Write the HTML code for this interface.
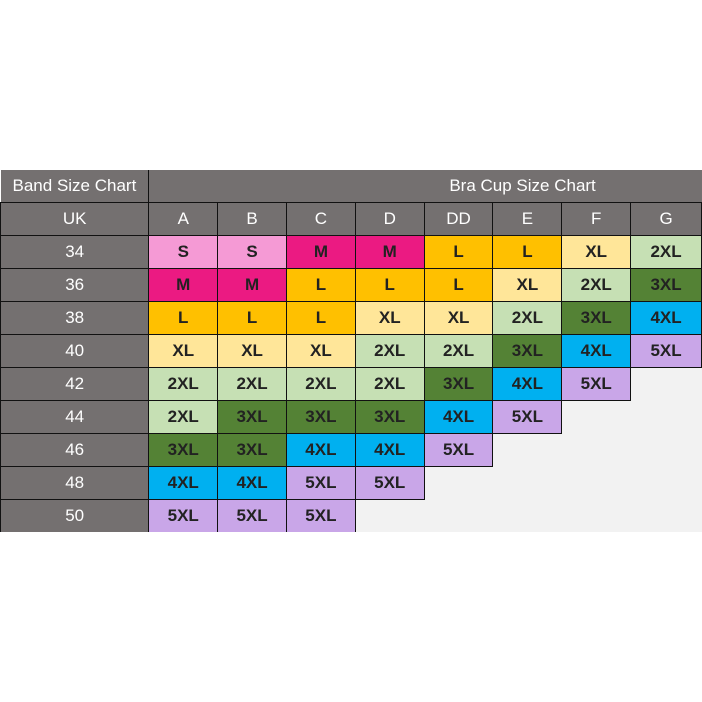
<!DOCTYPE html>
<html><head><meta charset="utf-8"><style>
html,body{margin:0;padding:0;background:#fff;width:702px;height:702px;overflow:hidden}
table{position:absolute;left:0;top:170px;border-collapse:collapse;table-layout:fixed;font-family:"Liberation Sans",sans-serif;font-size:17px}
td{height:32px;padding:0;text-align:center;border:1.5px solid #111;color:#222;font-weight:bold}
td.g{background:#747070;color:#fff;font-weight:normal}
td.e{background:#f2f2f2;border:none}
.S{background:#f59ad5}.M{background:#eb1a82}.L{background:#ffc000}.XL{background:#ffe699}
.X2{background:#c6e0b4}.X3{background:#548235}.X4{background:#00b0f0}.X5{background:#c9a6e8}
</style></head><body>
<table>
<colgroup><col style="width:149px"><col style="width:69px"><col style="width:69px"><col style="width:69px"><col style="width:69px"><col style="width:69px"><col style="width:69px"><col style="width:69px"><col style="width:71px"></colgroup>
<tr><td class="g" style="height:31px;border-top:none;border-left:none">Band Size Chart</td><td class="g" colspan="8" style="text-align:left;padding-left:300px;border-top:none;border-right:none">Bra Cup Size Chart</td></tr>
<tr><td class="g">UK</td><td class="g">A</td><td class="g">B</td><td class="g">C</td><td class="g">D</td><td class="g">DD</td><td class="g">E</td><td class="g">F</td><td class="g">G</td></tr>
<tr><td class="g">34</td><td class="S">S</td><td class="S">S</td><td class="M">M</td><td class="M">M</td><td class="L">L</td><td class="L">L</td><td class="XL">XL</td><td class="X2">2XL</td></tr>
<tr><td class="g">36</td><td class="M">M</td><td class="M">M</td><td class="L">L</td><td class="L">L</td><td class="L">L</td><td class="XL">XL</td><td class="X2">2XL</td><td class="X3">3XL</td></tr>
<tr><td class="g">38</td><td class="L">L</td><td class="L">L</td><td class="L">L</td><td class="XL">XL</td><td class="XL">XL</td><td class="X2">2XL</td><td class="X3">3XL</td><td class="X4">4XL</td></tr>
<tr><td class="g">40</td><td class="XL">XL</td><td class="XL">XL</td><td class="XL">XL</td><td class="X2">2XL</td><td class="X2">2XL</td><td class="X3">3XL</td><td class="X4">4XL</td><td class="X5">5XL</td></tr>
<tr><td class="g">42</td><td class="X2">2XL</td><td class="X2">2XL</td><td class="X2">2XL</td><td class="X2">2XL</td><td class="X3">3XL</td><td class="X4">4XL</td><td class="X5">5XL</td><td class="e"></td></tr>
<tr><td class="g">44</td><td class="X2">2XL</td><td class="X3">3XL</td><td class="X3">3XL</td><td class="X3">3XL</td><td class="X4">4XL</td><td class="X5">5XL</td><td class="e"></td><td class="e"></td></tr>
<tr><td class="g">46</td><td class="X3">3XL</td><td class="X3">3XL</td><td class="X4">4XL</td><td class="X4">4XL</td><td class="X5">5XL</td><td class="e"></td><td class="e"></td><td class="e"></td></tr>
<tr><td class="g">48</td><td class="X4">4XL</td><td class="X4">4XL</td><td class="X5">5XL</td><td class="X5">5XL</td><td class="e"></td><td class="e"></td><td class="e"></td><td class="e"></td></tr>
<tr><td class="g" style="border-bottom:none">50</td><td class="X5" style="border-bottom:none">5XL</td><td class="X5" style="border-bottom:none">5XL</td><td class="X5" style="border-bottom:none">5XL</td><td class="e"></td><td class="e"></td><td class="e"></td><td class="e"></td><td class="e"></td></tr>
</table>
</body></html>
